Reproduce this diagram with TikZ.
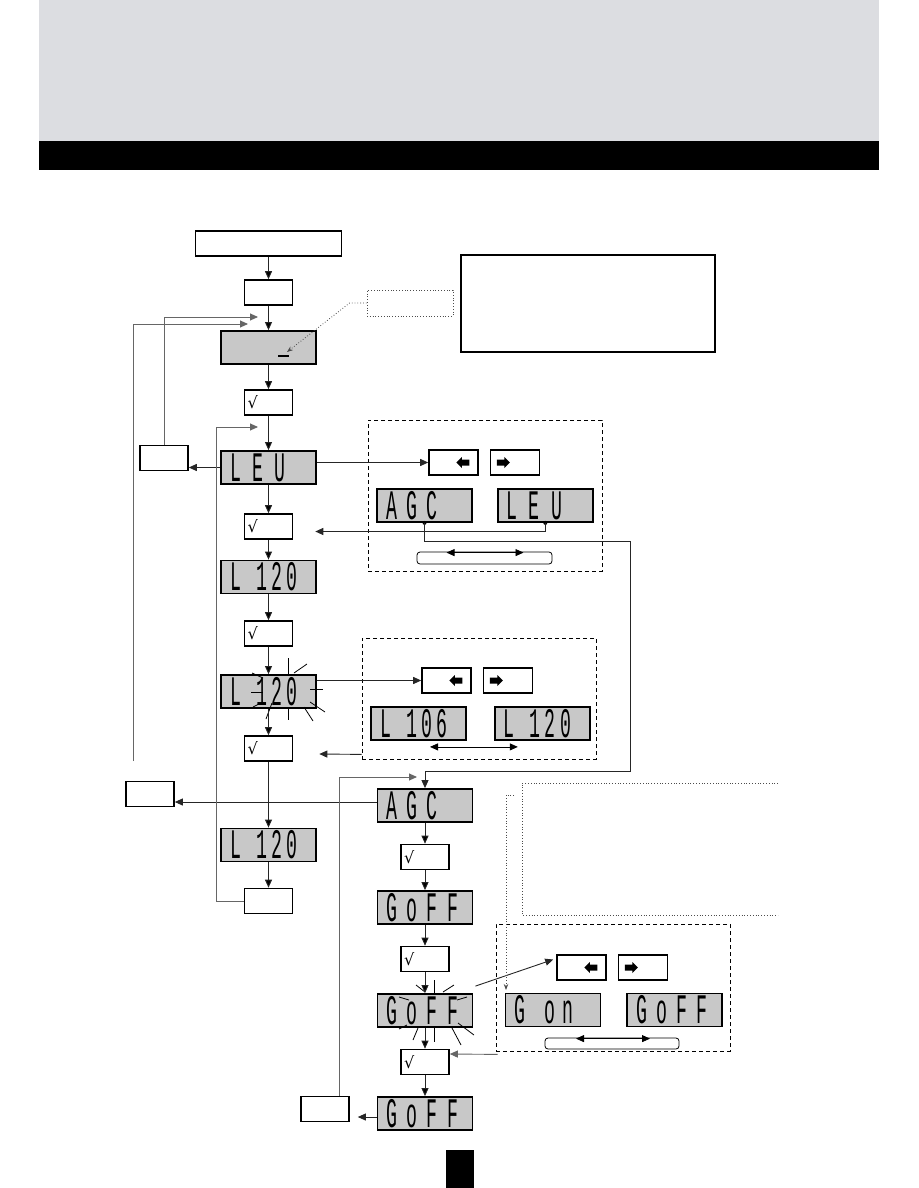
\documentclass[tikz,border=0pt]{standalone}
\usepackage{fontspec}
\usepackage{graphicx}
\usetikzlibrary{arrows.meta,calc,positioning}
\newfontfamily\lcdfont{Liberation Mono}
\newfontfamily\symfont{DejaVu Sans}
\definecolor{lcdgrey}{RGB}{200,200,200}
\definecolor{headgrey}{RGB}{220,221,225}
\newcommand{\lcd}[2]{\makebox[77pt][l]{\lcdfont\fontsize{28}{28}\selectfont\addfontfeature{LetterSpace=#1}\scalebox{0.65}[1.5]{#2}}}

\begin{document}
\begin{tikzpicture}[x=1pt,y=-1pt,
	box/.style={draw,line width=1.6pt,fill=white,minimum width=48pt,
		minimum height=25pt,inner sep=0pt},
	okbox/.style={box,text width=42pt,align=left,font=\symfont\fontsize{16}{16}\selectfont},
	lcd/.style={draw,line width=1.8pt,fill=lcdgrey,minimum width=95pt,
		minimum height=33pt,inner sep=0pt},
	btn/.style={box,minimum width=49pt},
	panel/.style={draw,line width=0.8pt,dash pattern=on 4pt off 3pt,inner sep=0pt},
	slider/.style={draw,line width=0.8pt,rounded corners=3pt,minimum height=12pt,inner sep=0pt},
	arr/.style={-{Triangle[length=8pt,width=7pt]},line width=0.9pt,draw=black!85},
	loopline/.style={arr,draw=black!60},
	leader/.style={dotted,line width=0.8pt,draw=black!70},
	ray/.style={line width=0.8pt},
	larrow/.pic={\fill (-6.5,0) -- (-1,-5.5) -- (-1,-3) -- (6.5,-3) -- (6.5,3) -- (-1,3) -- (-1,5.5) -- cycle;},
	rarrow/.pic={\fill (6.5,0) -- (1,-5.5) -- (1,-3) -- (-6.5,-3) -- (-6.5,3) -- (1,3) -- (1,5.5) -- cycle;}]
	
	\useasboundingbox (0,0) rectangle (918,1188);
	
	% header and page tab
	\fill[headgrey] (39,0) rectangle (879,141);
	\fill (39,141) rectangle (879,170);
	\fill (446,1150) rectangle (474,1188);
	
	% main column
	\node[box,minimum width=146pt] (A) at (268.5,243.5) {};
	\node[box] (B) at (268.5,292.5) {};
	\node[lcd] (C) at (268.5,347.5) {};
	\node[okbox] (D) at (268.5,402.5) {√};
	\node[lcd] (E) at (268.5,467.5) {\lcd{62}{LEU}};
	\node[okbox] (F) at (268.5,526.5) {√};
	\node[lcd] (G) at (268.5,577) {\lcd{23}{L 120}};
	\node[okbox] (H) at (268.5,633.5) {√};
	\node[lcd] (I) at (268.5,691.5) {\lcd{23}{L 120}};
	\node[okbox] (J) at (268.5,748.5) {√};
	\node[lcd] (K) at (268.5,845) {\lcd{23}{L 120}};
	\node[box] (L) at (268.5,901) {};
	
	% second column
	\node[lcd] (M) at (425,805.5) {\lcd{51}{AGC}};
	\node[okbox] (N) at (425,857) {√};
	\node[lcd] (O) at (425,907.5) {\lcd{51}{GoFF}};
	\node[okbox] (P) at (425,959) {√};
	\node[lcd] (Q) at (425,1010.5) {\lcd{51}{GoFF}};
	\node[okbox] (R) at (425,1062) {√};
	\node[lcd] (S) at (425,1113.5) {\lcd{51}{GoFF}};
	
	% side boxes
	\node[box] (T) at (164,458) {};
	\node[box] (U) at (150,794) {};
	\node[box] (V) at (325,1109) {};
	\node[leader,minimum width=86pt,minimum height=26pt] (W) at (410,303) {};
	\node[draw,line width=1.2pt,minimum width=254pt,minimum height=97pt] (X) at (588,303.5) {};
	
	% cursor
	\draw[line width=2pt] (278,356) -- (289,356);
	
	% panel 1
	\node[panel,minimum width=234pt,minimum height=151pt] (P1) at (485,495.5) {};
	\node[btn] (K1) at (453.5,462.5) {};
	\node[btn] (K2) [right=11pt of K1] {};
	\node[lcd] (LA) at (424.5,505.5) {\lcd{51}{AGC}};
	\node[lcd] (LB) [right=24pt of LA] {\lcd{62}{LEU}};
	\node[slider,minimum width=135pt] (B1) at (484.5,558) {};
	
	% panel 2
	\node[panel,minimum width=234pt,minimum height=121pt] (P2) at (479,698.5) {};
	\node[btn] (K3) at (446.5,680.5) {};
	\node[btn] (K4) [right=11pt of K3] {};
	\node[lcd] (LC) at (418.5,723.5) {\lcd{23}{L 106}};
	\node[lcd] (LD) [right=27pt of LC] {\lcd{23}{L 120}};
	
	% panel 3
	\node[panel,minimum width=234pt,minimum height=127pt] (P3) at (613,987.5) {};
	\node[btn] (K5) at (581.5,967.5) {};
	\node[btn] (K6) [right=11pt of K5] {};
	\node[lcd] (LE) at (553,1010) {\lcd{43}{G on}};
	\node[lcd] (LF) [right=25pt of LE] {\lcd{51}{GoFF}};
	\node[slider,minimum width=134pt,minimum height=11pt] (B3) at (612,1043.5) {};
	
	\foreach \k in {K1,K3,K5} \pic at ($(\k.east)+(-16,0)$) {larrow};
	\foreach \k in {K2,K4,K6} \pic at ($(\k.west)+(13.5,0)$) {rarrow};
	
	\draw[{Triangle[length=8pt,width=7pt]}-{Triangle[length=8pt,width=7pt]},line width=0.8pt]
		($(B1.north)+(-38,1)$) -- ($(B1.north)+(39,1)$);
	\draw[{Triangle[length=8pt,width=7pt]}-{Triangle[length=8pt,width=7pt]},line width=0.8pt]
		($(LC.south)+(11.5,6)$) -- ($(LD.south)+(-24.5,6)$);
	\draw[{Triangle[length=8pt,width=7pt]}-{Triangle[length=8pt,width=7pt]},line width=0.8pt]
		($(B3.north)+(-36,1)$) -- ($(B3.north)+(38,1)$);
	\fill (LA.south) circle (2pt);
	\fill (LB.south) circle (2pt);
	
	% flashing displays
	\foreach \xa/\ya/\xb/\yb in {288/658/288/675, 288/708/288/720, 294/673/307/664,
		252/673/263/678, 310/689/323/689, 310/702/325/712, 304/707/313/721,
		263/702/253/707, 272/703/266/719, 251/692/263/692,
		434/980/434/995, 434/1027/434/1042, 416/985/425/992, 443/992/454/985,
		399/997/409/1000, 457/1000/467/997, 458/1023/474/1035, 452/1028/461/1045,
		418/1028/413/1040, 407/1025/399/1029}
		\draw[ray] (\xa,\ya) -- (\xb,\yb);
	
	% flow
	\path[arr] (A) edge (B) (B) edge (C) (C) edge (D) (D) edge (E) (E) edge (F)
	(F) edge (G) (G) edge (H) (H) edge (I) (I) edge (J) (J) edge (K) (K) edge (L)
	(M) edge (N) (N) edge (O) (O) edge (P) (P) edge (Q) (Q) edge (R) (R) edge (S);
	
	\draw[arr] (E.west) -- (E.west -| T.east);
	\draw[arr] ([yshift=3.5pt]M.west) -- ([yshift=3.5pt]M.west -| U.east);
	\draw[arr,shorten >=8pt] ([yshift=-3.5pt]S.west) -- ([yshift=-3.5pt]S.west -| V.east);
	\draw[arr] (E.east |- K1) -- (K1.west);
	\draw[arr] (I.east |- K3) -- (K3.west);
	\draw[arr] ($(Q.north east)+(2,-7)$) -- ($(K5.west)+(-3,-8)$);
	
	% loops back
	\coordinate (in1) at (258,317);
	\coordinate (in2) at (248,324);
	\coordinate (end2) at (133,761);
	\coordinate (c3) at (216,427);
	\coordinate (in3) at (258,427);
	\coordinate (in4) at (417,777);
	\coordinate (r1) at (630,541);
	\coordinate (r2) at (630,771);
	
	\draw[loopline] (T.north) |- (in1);
	\draw[loopline] (end2) |- (in2);
	\draw[loopline] (L.west) -| (c3) -- (in3);
	\draw[loopline] ([xshift=14pt]V.north) |- (in4);
	\draw[arr] (LA.south) |- (r1) -- (r2) -| (M.north);
	\draw[arr] (LB.south) |- ($(F.east)+(22,5)$);
	\draw[arr] ($(P2.south west)+(0,-5)$) -- ($(J.east)+(26,5.5)$);
	\draw[loopline] ($(P3.south west)+(2,3)$) -- ($(R.east)+(0,-8)$);
	
	% dotted notes
	\coordinate (cur) at (287,352);
	\coordinate (d0) at (514,795);
	\draw[leader,-{Stealth[length=6pt]}] (W.west) -- ++(-17,0) -- (cur);
	\draw[leader] (778,783) -- (522,783) -- (522,915) -- (778,915);
	\draw[leader,-{Stealth[length=6pt]}] (d0) -- ++(-8,0) -- ++(0,195);
	
\end{tikzpicture}
\end{document}
